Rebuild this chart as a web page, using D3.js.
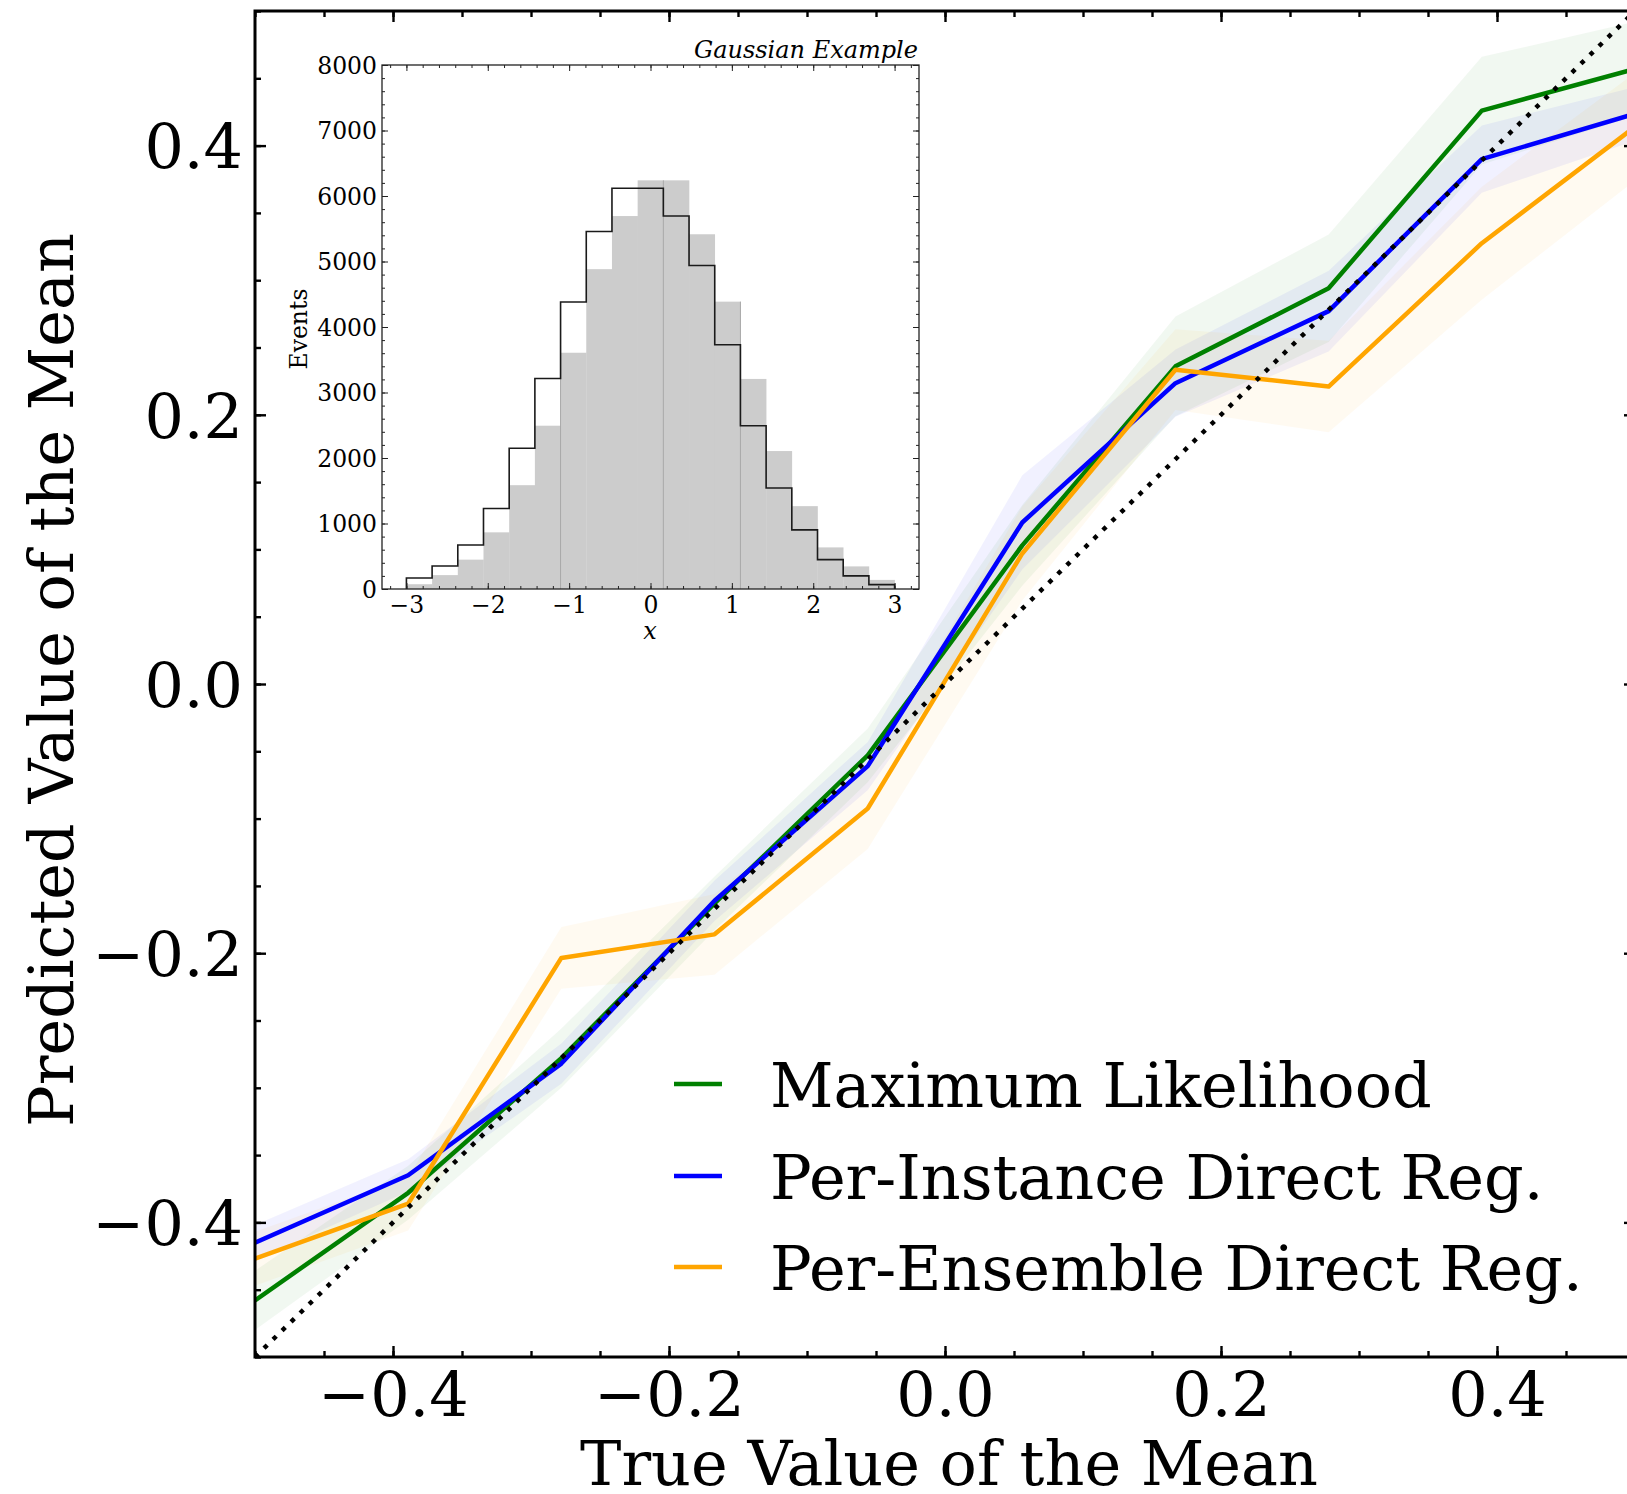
<!DOCTYPE html>
<head>
<meta charset="utf-8">
<script src="https://d3js.org/d3.v7.min.js"></script>
<style>
  body { margin: 0; background: #fff; }
  text { font-family: "DejaVu Serif", serif; fill: #000; }
</style>
</head>
<body>
<div id="datavis"></div>

<script type="text/javascript">
    // true means sampled on the x axis
    var trueMean = [-0.5, -0.389, -0.278, -0.167, -0.056, 0.056, 0.167, 0.278, 0.389, 0.5];

    // predicted means for each method
    var mlPred       = [-0.458, -0.378, -0.278, -0.163, -0.053, 0.103, 0.236, 0.294, 0.426, 0.457];
    var instancePred = [-0.415, -0.365, -0.282, -0.161, -0.061, 0.120, 0.2235, 0.277, 0.390, 0.4236];
    var ensemblePred = [-0.427, -0.386, -0.2035, -0.186, -0.0925, 0.097, 0.2335, 0.221, 0.3275, 0.414];

    // half width of the shaded bands
    var mlSpread       = [0.022, 0.02, 0.022, 0.02, 0.02, 0.03, 0.037, 0.04, 0.04, 0.035];
    var instanceSpread = [0.013, 0.012, 0.015, 0.015, 0.018, 0.035, 0.025, 0.03, 0.025, 0.02];
    var ensembleSpread = [0.02, 0.02, 0.023, 0.03, 0.03, 0.035, 0.03, 0.034, 0.042, 0.04];

    var seriesNames = ["Maximum Likelihood", "Per-Instance Direct Reg.", "Per-Ensemble Direct Reg."];
    var seriesColors = ["green", "blue", "orange"];

    var mainTicks = [-0.4, -0.2, 0.0, 0.2, 0.4];

    // inset histogram: 19 bins between -3 and 3
    var histEdges = d3.range(20).map(function(i) { return -3 + i * 6 / 19; });
    var greyCounts  = [73, 212, 448, 865, 1585, 2493, 3607, 4883, 5694, 6239, 6239, 5416, 4387, 3207, 2106, 1265, 635, 345, 139];
    var stepCounts  = [169, 351, 672, 1228, 2148, 3213, 4381, 5458, 6118, 6118, 5694, 4938, 3728, 2493, 1543, 902, 448, 200, 67];
    var greySplitEdges = [6, 10, 13];
    var insetXTicks = [-3, -2, -1, 0, 1, 2, 3];
    var insetYTicks = [0, 1000, 2000, 3000, 4000, 5000, 6000, 7000, 8000];

    var width = 1627, height = 1494;

    var svg = d3.select("#datavis")
                .append("svg")
                .attr("width", width)
                .attr("height", height);

    var x = d3.scaleLinear().domain([-0.5, 0.5]).range([255, 1635]);
    var y = d3.scaleLinear().domain([-0.5, 0.5]).range([1357, 11]);

    svg.append("clipPath").attr("id", "plotclip")
       .append("rect")
       .attr("x", x(-0.5)).attr("y", y(0.5))
       .attr("width", x(0.5) - x(-0.5)).attr("height", y(-0.5) - y(0.5));

    var plot = svg.append("g").attr("clip-path", "url(#plotclip)");

    var preds = [mlPred, instancePred, ensemblePred];
    var spreads = [mlSpread, instanceSpread, ensembleSpread];

    // shaded bands
    preds.forEach(function(p, k) {
        var area = d3.area()
                     .x(function(d, i) { return x(trueMean[i]); })
                     .y0(function(d, i) { return y(d - spreads[k][i]); })
                     .y1(function(d, i) { return y(d + spreads[k][i]); });
        plot.append("path")
            .datum(p)
            .attr("fill", seriesColors[k])
            .attr("fill-opacity", 0.055)
            .attr("d", area);
    });

    // lines
    preds.forEach(function(p, k) {
        plot.append("path")
            .datum(p)
            .attr("fill", "none")
            .attr("stroke", seriesColors[k])
            .attr("stroke-width", 4.5)
            .attr("stroke-linejoin", "round")
            .attr("d", d3.line().x(function(d, i) { return x(trueMean[i]); })
                                .y(function(d) { return y(d); }));
    });

    // y = x reference
    plot.append("path")
        .datum([-0.5, 0.5])
        .attr("fill", "none")
        .attr("stroke", "black")
        .attr("stroke-width", 4.5)
        .attr("stroke-dasharray", "4.5,8.1")
        .attr("d", d3.line().x(function(d) { return x(d); }).y(function(d) { return y(d); }));

    // axes, ticks pointing inward
    var minorX = d3.range(-10, 11).map(function(i) { return i * 0.05; });

    function addAxis(axisFn, scale, pos, vals, size, labels) {
        var a = axisFn(scale).tickValues(vals).tickSize(-size).tickSizeOuter(0);
        if (labels) { a.tickFormat(d3.format(".1f")).tickPadding(12); } else { a.tickFormat(""); }
        var g = svg.append("g").attr("transform", pos).call(a);
        g.select(".domain").remove();
        g.selectAll(".tick line").attr("stroke", "#000").attr("stroke-width", 2.4);
        return g;
    }

    addAxis(d3.axisBottom, x, "translate(0," + y(-0.5) + ")", minorX, 6, false);
    addAxis(d3.axisTop, x, "translate(0," + y(0.5) + ")", minorX, 6, false);
    addAxis(d3.axisLeft, y, "translate(" + x(-0.5) + ",0)", minorX, 6, false);
    addAxis(d3.axisRight, y, "translate(" + x(0.5) + ",0)", minorX, 6, false);
    addAxis(d3.axisTop, x, "translate(0," + y(0.5) + ")", mainTicks, 11, false);
    addAxis(d3.axisRight, y, "translate(" + x(0.5) + ",0)", mainTicks, 11, false);

    var bx = addAxis(d3.axisBottom, x, "translate(0," + y(-0.5) + ")", mainTicks, 11, true);
    bx.selectAll(".tick text")
      .attr("font-size", 62).attr("font-family", "DejaVu Serif")
      .attr("dy", null).attr("y", 59);

    var ly = addAxis(d3.axisLeft, y, "translate(" + x(-0.5) + ",0)", mainTicks, 11, true);
    ly.selectAll(".tick text")
      .attr("font-size", 62).attr("font-family", "DejaVu Serif")
      .attr("dy", "0.36em");

    svg.append("rect")
       .attr("x", x(-0.5)).attr("y", y(0.5))
       .attr("width", x(0.5) - x(-0.5)).attr("height", y(-0.5) - y(0.5))
       .attr("fill", "none").attr("stroke", "#000").attr("stroke-width", 3);

    svg.append("text")
       .attr("x", 949).attr("y", 1485)
       .attr("text-anchor", "middle")
       .attr("font-size", 62)
       .text("True Value of the Mean");

    svg.append("text")
       .attr("transform", "translate(73,680) rotate(-90)")
       .attr("text-anchor", "middle")
       .attr("font-size", 62)
       .text("Predicted Value of the Mean");

    // legend
    var legend = svg.append("g");
    var legendY = [1084, 1176, 1267];
    seriesNames.forEach(function(name, k) {
        legend.append("line")
              .attr("x1", 674).attr("x2", 722)
              .attr("y1", legendY[k]).attr("y2", legendY[k])
              .attr("stroke", seriesColors[k]).attr("stroke-width", 4.5);
        legend.append("text")
              .attr("x", 770).attr("y", legendY[k] + 23)
              .attr("font-size", 62)
              .text(name);
    });

    // ---------------- inset histogram ----------------
    var xi = d3.scaleLinear().domain([-3.3, 3.3]).range([382, 919]);
    var yi = d3.scaleLinear().domain([0, 8000]).range([589, 65]);

    var inset = svg.append("g");
    inset.append("rect")
         .attr("x", xi(-3.3)).attr("y", yi(8000))
         .attr("width", xi(3.3) - xi(-3.3)).attr("height", yi(0) - yi(8000))
         .attr("fill", "#fff");

    inset.selectAll(".bar")
         .data(greyCounts)
         .enter().append("rect")
         .attr("x", function(d, i) { return xi(histEdges[i]); })
         .attr("width", function(d, i) { return xi(histEdges[i + 1]) - xi(histEdges[i]) + 0.3; })
         .attr("y", function(d) { return yi(d); })
         .attr("height", function(d) { return yi(0) - yi(d); })
         .attr("fill", "#cccccc");

    greySplitEdges.forEach(function(e) {
        var h = Math.max(greyCounts[e - 1], greyCounts[e]);
        inset.append("line")
             .attr("x1", xi(histEdges[e])).attr("x2", xi(histEdges[e]))
             .attr("y1", yi(0)).attr("y2", yi(h))
             .attr("stroke", "#a8a8a8").attr("stroke-width", 1);
    });

    var stepPts = [[histEdges[0], 0]];
    stepCounts.forEach(function(c, i) { stepPts.push([histEdges[i], c]); });
    stepPts.push([histEdges[19], stepCounts[18]]);
    stepPts.push([histEdges[19], 0]);
    inset.append("path")
         .datum(stepPts)
         .attr("fill", "none")
         .attr("stroke", "#1a1a1a")
         .attr("stroke-width", 1.6)
         .attr("d", d3.line().curve(d3.curveStepAfter)
                             .x(function(d) { return xi(d[0]); })
                             .y(function(d) { return yi(d[1]); }));

    var insetMinorX = d3.range(-16, 17).map(function(i) { return i * 0.2; });
    var insetMinorY = d3.range(0, 41).map(function(i) { return i * 200; });

    function addInsetAxis(axisFn, scale, pos, vals, size, labels) {
        var a = axisFn(scale).tickValues(vals).tickSize(-size).tickSizeOuter(0);
        if (labels) { a.tickFormat(d3.format("d")).tickPadding(6); } else { a.tickFormat(""); }
        var g = inset.append("g").attr("transform", pos).call(a);
        g.select(".domain").remove();
        g.selectAll(".tick line").attr("stroke", "#222").attr("stroke-width", 1);
        g.selectAll(".tick text").attr("font-size", 23.5).attr("font-family", "DejaVu Serif").attr("fill", "#000");
        return g;
    }

    addInsetAxis(d3.axisBottom, xi, "translate(0," + yi(0) + ")", insetMinorX, 3, false);
    addInsetAxis(d3.axisTop, xi, "translate(0," + yi(8000) + ")", insetMinorX, 3, false);
    addInsetAxis(d3.axisLeft, yi, "translate(" + xi(-3.3) + ",0)", insetMinorY, 3, false);
    addInsetAxis(d3.axisRight, yi, "translate(" + xi(3.3) + ",0)", insetMinorY, 3, false);
    addInsetAxis(d3.axisTop, xi, "translate(0," + yi(8000) + ")", insetXTicks, 6, false);
    addInsetAxis(d3.axisRight, yi, "translate(" + xi(3.3) + ",0)", insetYTicks, 6, false);
    var ibx = addInsetAxis(d3.axisBottom, xi, "translate(0," + yi(0) + ")", insetXTicks, 6, true);
    ibx.selectAll(".tick text").attr("dy", null).attr("y", 24);
    var ily = addInsetAxis(d3.axisLeft, yi, "translate(" + xi(-3.3) + ",0)", insetYTicks, 6, true);
    ily.selectAll(".tick text").attr("dy", "0.36em").attr("x", -5);

    inset.append("rect")
         .attr("x", xi(-3.3)).attr("y", yi(8000))
         .attr("width", xi(3.3) - xi(-3.3)).attr("height", yi(0) - yi(8000))
         .attr("fill", "none").attr("stroke", "#222").attr("stroke-width", 1.3);

    inset.append("text")
         .attr("x", 650).attr("y", 639)
         .attr("text-anchor", "middle")
         .attr("font-size", 24).attr("font-style", "italic")
         .text("x");

    inset.append("text")
         .attr("transform", "translate(307,329) rotate(-90)")
         .attr("text-anchor", "middle")
         .attr("font-size", 23.5)
         .text("Events");

    inset.append("text")
         .attr("x", 918).attr("y", 58)
         .attr("text-anchor", "end")
         .attr("font-size", 24).attr("font-style", "italic")
         .text("Gaussian Example");
</script>
</body>
